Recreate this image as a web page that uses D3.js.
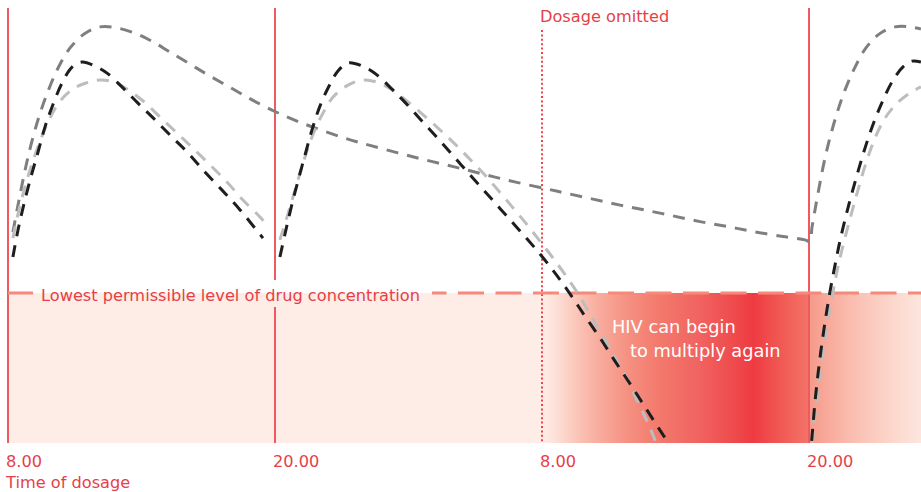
<!DOCTYPE html>
<html><head><meta charset="utf-8">
<script src="https://cdn.jsdelivr.net/npm/d3@7/dist/d3.min.js"></script>
<style>
html,body{margin:0;padding:0;background:#fff;}
svg{display:block;}
text{font-family:"DejaVu Sans",sans-serif;}
</style></head>
<body>
<svg id="chart" width="921" height="492"></svg>
<script>
// ---- data (time in hours after first 8.00 dose, concentration in arbitrary units) ----
const doseTimes = [0, 12, 24, 36];
const doseLabels = ["8.00", "20.00", "8.00", "20.00"];
const omittedDose = 2;
const threshold = 50;

// long-acting drug (dark grey)
const greyLong = [[0.22,70.3],[0.45,79.3],[0.72,89.3],[1.03,99.3],[1.39,108.7],[1.8,117.3],[2.25,125],[2.79,131.7],[3.42,136.3],[4.13,138.7],[4.94,138.3],[5.8,136.3],[6.52,133.7],[7.28,130.3],[8.18,126.3],[9.08,122.3],[10.11,118],[11.01,114.2],[12,110.5],[12.99,107.3],[14.11,104.2],[15.28,101.3],[16.27,99.2],[17.48,96.8],[18.52,94.8],[19.64,92.8],[20.63,91],[21.8,88.8],[22.92,86.8],[24.22,84.7],[25.12,83.2],[26.29,81.3],[27.51,79.3],[28.72,77.5],[29.89,75.7],[31.1,73.8],[32.31,72.2],[33.48,70.5],[34.83,68.8],[35.82,67.7],[36.04,67.2],[36.13,71.7],[36.27,77.7],[36.45,85],[36.67,93.3],[36.94,101.7],[37.26,110],[37.62,117.7],[38.07,125.3],[38.56,131.7],[39.15,136.3],[39.87,138.7],[40.54,138.7],[41.03,138]];

// drug B (black), one array per dose taken
const blackDose1 = [[0.22,62],[0.45,71],[0.76,81],[1.08,90],[1.35,97],[1.66,105.3],[1.98,112],[2.43,120],[2.88,125.3],[3.33,127],[4,125.3],[4.45,123.3],[5.12,118.7],[5.84,113.3],[6.61,107.7],[7.37,102],[8.09,96.7],[8.85,90.3],[9.62,84.3],[10.43,77.7],[11.24,70.3],[11.46,68.3]];
const blackDose2 = [[12.22,62],[12.45,69.7],[12.72,78.3],[13.03,87.3],[13.35,96],[13.66,104.3],[14.02,112.3],[14.43,119],[14.83,124],[15.28,126.7],[15.91,125.7],[16.58,122.7],[17.21,118.3],[17.75,114.3],[18.52,108],[19.42,100.7],[20.31,93.2],[21.21,85.7],[22.11,78.2],[23.01,70.7],[23.91,63],[24.58,56.7],[25.26,49.7],[25.93,42.3],[26.61,35],[27.28,27.3],[27.96,19.7],[28.63,12],[29.3,4.3],[29.75,-0.7],[30.43,-8.3]];
const blackDose4 = [[36.04,-6.3],[36.18,6],[36.27,13.7],[36.4,22.7],[36.54,31],[36.72,40.3],[36.94,50.3],[37.17,59.3],[37.39,67.3],[37.66,75.7],[37.93,83.3],[38.25,91.7],[38.56,99.3],[38.92,107],[39.33,114.3],[39.78,121],[40.27,125.7],[40.63,127.3],[41.03,127]];

// drug C (light grey), one array per dose taken
const lightDose1 = [[0.22,68.3],[0.45,76.3],[0.76,85.3],[1.12,94],[1.53,102.3],[1.93,109],[2.38,114.3],[2.92,118],[3.51,120],[4.13,121],[4.81,120.2],[5.48,117.3],[6.07,114],[6.83,108.7],[7.6,103.3],[8.31,98.3],[9.08,92.7],[9.84,87],[10.56,81],[11.33,75.3],[11.69,72.3]];
const lightDose2 = [[12.22,67.7],[12.54,75.3],[12.9,84.3],[13.26,93.3],[13.66,102],[14.11,109.3],[14.61,115.3],[15.28,119.3],[15.96,121],[16.58,120.3],[17.21,118],[17.84,114.5],[18.52,110.3],[19.28,105.3],[20,100.3],[20.67,95.3],[21.35,90],[22.02,84.3],[22.65,78.8],[23.28,73.2],[23.91,67.3],[24.49,61.7],[25.08,55.7],[25.62,49.7],[26.16,43],[26.7,36],[27.24,29],[27.78,22],[28.27,14.3],[28.72,7.3],[29.12,0.3],[29.57,-7]];
const lightDose4 = [[36.04,-7.3],[36.13,-1.7],[36.22,6],[36.36,14.3],[36.49,22.7],[36.67,32],[36.85,41],[37.08,50.3],[37.3,58.7],[37.57,67],[37.89,76],[38.2,84.3],[38.56,93.3],[38.97,101.7],[39.42,108.3],[39.96,113.3],[40.54,116.7],[41.03,118.7]];

const labels = {
  omitted: "Dosage omitted",
  threshold: "Lowest permissible level of drug concentration",
  hiv1: "HIV can begin",
  hiv2: "to multiply again",
  axis: "Time of dosage"
};

// ---- layout ----
const W = 921, H = 492;
const x = d3.scaleLinear().domain([0, 36]).range([8, 809]);
const y = d3.scaleLinear().domain([0, 145]).range([443, 8]);
const tMax = x.invert(W);

const RED = "#e63f48", LINE = "#ef5a60", SALMON = "#f5897b";
const svg = d3.select("#chart");
const defs = svg.append("defs");

// gradient (stops given in hours)
const gradStops = [[24,"#fdede6"],[24.4,"#fde6df"],[25.4,"#fbcabd"],[26.5,"#f8ad9f"],[27.9,"#f59081"],[29.2,"#f37a6d"],[31,"#f16461"],[32.6,"#ef4b4d"],[33.5,"#ee3b42"],[34.3,"#f04f4e"],[35.95,"#f37367"],[36.0,"#f69a8a"],[37.9,"#fabdb0"],[39.7,"#fcd6cb"],[tMax,"#fde6de"]];
const grad = defs.append("linearGradient").attr("id","hivGrad")
  .attr("gradientUnits","userSpaceOnUse")
  .attr("x1", x(24)).attr("x2", x(tMax)).attr("y1",0).attr("y2",0);
gradStops.forEach(([t,c]) => grad.append("stop")
  .attr("offset", (x(t)-x(24))/(x(tMax)-x(24))).attr("stop-color", c));

defs.append("clipPath").attr("id","plotClip").append("rect")
  .attr("x", 0).attr("y", 0).attr("width", W).attr("height", y(0));

// knock-out around the threshold label (hides lines, keeps the fill)
const ko = defs.append("mask").attr("id","labelKO").attr("maskUnits","userSpaceOnUse")
  .attr("x",0).attr("y",0).attr("width",W).attr("height",H);
ko.append("rect").attr("x",0).attr("y",0).attr("width",W).attr("height",H).attr("fill","#fff");
ko.append("rect").attr("x",33).attr("y",y(threshold)-13).attr("width",432-33).attr("height",27).attr("fill","#000");

// below-threshold zone
svg.append("rect").attr("x", x(0)).attr("y", y(threshold))
  .attr("width", W - x(0)).attr("height", y(0) - y(threshold)).attr("fill", "#fdede6");
svg.append("rect").attr("x", x(24)).attr("y", y(threshold))
  .attr("width", W - x(24)).attr("height", y(0) - y(threshold)).attr("fill", "url(#hivGrad)");

const lines = svg.append("g").attr("mask","url(#labelKO)");
// dose lines
doseTimes.forEach((t,i) => {
  const l = lines.append("line").attr("x1", x(t)).attr("x2", x(t))
    .attr("y1", i === omittedDose ? 30 : y(145)).attr("y2", y(0))
    .attr("stroke", i === omittedDose ? "#ee434b" : LINE).attr("stroke-width", 2);
  if (i === omittedDose) l.attr("stroke-dasharray", "2 2.4");
});

// threshold line
lines.append("line")
  .attr("x1", x(0)).attr("x2", W).attr("y1", y(threshold)).attr("y2", y(threshold))
  .attr("stroke", SALMON).attr("stroke-width", 3).attr("stroke-dasharray", "26 11.5");

// curves
const line = d3.line().x(d => x(d[0])).y(d => y(d[1])).curve(d3.curveCatmullRom.alpha(0.5));
const g = svg.append("g").attr("clip-path","url(#plotClip)");
const series = [
  [greyLong, "#7f7f7f"],
  [lightDose1, "#bdbdbd"], [lightDose2, "#bdbdbd"], [lightDose4, "#bdbdbd"],
  [blackDose1, "#1e1e1e"], [blackDose2, "#1e1e1e"], [blackDose4, "#1e1e1e"]
];
series.forEach(([data, col]) => g.append("path").attr("d", line(data))
  .attr("fill","none").attr("stroke", col).attr("stroke-width", 3)
  .attr("stroke-dasharray","12 9"));

// texts
svg.append("text").attr("x", x(24) - 2).attr("y", 22).attr("fill", RED)
  .attr("font-size", 16.2).text(labels.omitted);
svg.append("text").attr("x", 41).attr("y", y(threshold) + 8).attr("fill", RED)
  .attr("font-size", 16.2).text(labels.threshold);
svg.append("text").attr("x", 612).attr("y", 333).attr("fill", "#fff")
  .attr("font-size", 17.8).text(labels.hiv1);
svg.append("text").attr("x", 630).attr("y", 357).attr("fill", "#fff")
  .attr("font-size", 17.8).text(labels.hiv2);
doseTimes.forEach((t,i) => svg.append("text").attr("x", x(t) - 2).attr("y", 467)
  .attr("fill", RED).attr("font-size", 16.2).text(doseLabels[i]));
svg.append("text").attr("x", 6).attr("y", 488).attr("fill", RED)
  .attr("font-size", 16.2).text(labels.axis);
</script>
</body></html>
